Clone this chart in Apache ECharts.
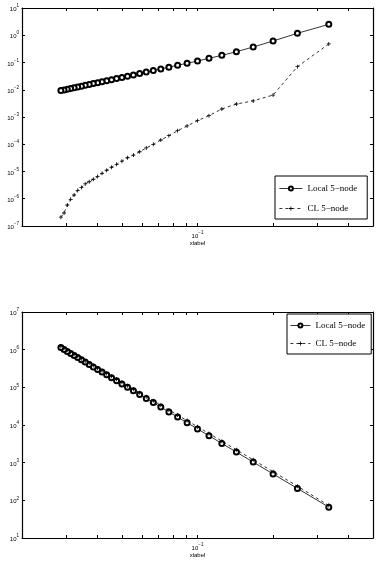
<!DOCTYPE html>
<html>
<head>
<meta charset="utf-8">
<script src="https://cdn.jsdelivr.net/npm/echarts@6/dist/echarts.min.js"></script>
<style>
html,body{margin:0;padding:0;background:#fff}
#main{width:376px;height:564px}
</style>
</head>
<body>
<div id="main"></div>
<script>
// mesh sizes, h = 1/n
var meshN = [3,4,5,6,7,8,9,10,11,12,13,14,15,16,17,18,19,20,21,22,23,24,25,26,27,28,29,30,31,32,33,34,35]

// top plot
var topLocal = [2.51,1.18,0.615,0.371,0.249,0.183,0.143,0.113,0.0938,0.0788,0.0671,0.0579,0.0505,0.0444,0.0393,0.0350,0.0314,0.0284,0.0258,0.0234,0.0215,0.0197,0.0182,0.0168,0.0156,0.0145,0.0135,0.0126,0.0118,0.0111,0.0104,0.0098,0.0093]
var topCL = [0.48,0.070,6.4e-3,3.9e-3,3.0e-3,1.97e-3,1.12e-3,7.3e-4,4.7e-4,3.14e-4,2.06e-4,1.43e-4,9.9e-5,7.3e-5,5.3e-5,4.0e-5,3.2e-5,2.4e-5,1.84e-5,1.43e-5,1.11e-5,8.6e-6,6.5e-6,5.2e-6,4.2e-6,3.5e-6,2.6e-6,2.0e-6,1.37e-6,9.5e-7,5.9e-7,3.0e-7,2.1e-7]

// bottom plot
var botLocal = [66,207,502,1035,1910,3245,5180,7870,11480,16220,22280,29920,39360,50820,64710,81100,100700,123300,149600,179900,214800,254100,299200,349100,406100,468800,539500,616600,703100,796200,899500,1014000,1138000]
var botCL = [73,238,577,1190,2200,3730,5960,8970,13090,18330,25180,33510,44080,56410,71830,89210,110800,135600,163100,196100,234100,274400,323100,377000,438600,501600,577300,659800,752300,851900,962500,1085000,1218000]

// ticks
var xTicks = [0.02,0.03,0.04,0.05,0.06,0.07,0.08,0.09,0.1,0.2,0.3,0.4,0.5]
var xLabels = [0.1]
var yTicksTop = [1e-7,1e-6,1e-5,1e-4,1e-3,1e-2,1e-1,1,10]
var yTicksBot = [10,100,1e3,1e4,1e5,1e6,1e7]

var names = ['Local 5\u2212node','CL 5\u2212node']
var plusPath = 'path://M4,0H6V4H10V6H6V10H4V6H0V4H4Z'

function pairs(ys){
	var out = []
	for (var i=0;i<meshN.length;i++) {
		out.push([1/meshN[i], ys[i]])
	}
	return out
}

function powLabel(v){
	var e = Math.round(Math.log10(v))
	return '{b|10}{s|' + (e<0 ? '\u2212'+(-e) : e) + '}'
}
var rich = {
	b: {fontSize: 6, fontFamily: 'Liberation Sans', color: '#000', verticalAlign: 'bottom', lineHeight: 9},
	s: {fontSize: 4.5, fontFamily: 'Liberation Sans', color: '#000', verticalAlign: 'top', lineHeight: 9, padding: [0,0,4,0]}
}
var lineBox = {show: true, lineStyle: {color: '#000', width: 1.2}}

function xAxes(gi){
	return [{
		type: 'log', gridIndex: gi, min: 0.02, max: 0.5, position: 'bottom',
		axisLine: lineBox,
		axisTick: {inside: true, length: 3, customValues: xTicks, lineStyle: {color: '#000'}},
		axisLabel: {customValues: xLabels, formatter: powLabel, rich: rich, margin: 4},
		splitLine: {show: false},
		name: 'xlabel', nameLocation: 'middle', nameGap: 14,
		nameTextStyle: {fontSize: 6, fontFamily: 'Liberation Sans', color: '#000'}
	},{
		type: 'log', gridIndex: gi, min: 0.02, max: 0.5, position: 'top',
		axisLine: lineBox,
		axisTick: {inside: true, length: 3, customValues: xTicks, lineStyle: {color: '#000'}},
		axisLabel: {show: false},
		splitLine: {show: false}
	}]
}
function yAxes(gi, lo, hi, ticks){
	return [{
		type: 'log', gridIndex: gi, min: lo, max: hi, position: 'left',
		axisLine: lineBox,
		axisTick: {inside: true, length: 3, customValues: ticks, lineStyle: {color: '#000'}},
		axisLabel: {customValues: ticks, formatter: powLabel, rich: rich, margin: 3},
		splitLine: {show: false},
		name: 'ylabel', nameLocation: 'middle', nameGap: 16, nameRotate: 90,
		nameTextStyle: {fontSize: 6, fontFamily: 'Liberation Sans', color: '#000'}
	},{
		type: 'log', gridIndex: gi, min: lo, max: hi, position: 'right',
		axisLine: lineBox,
		axisTick: {inside: true, length: 3, customValues: ticks, lineStyle: {color: '#000'}},
		axisLabel: {show: false},
		splitLine: {show: false}
	}]
}

function localSeries(xi, yi, data){
	return {
		name: names[0], type: 'line', xAxisIndex: xi, yAxisIndex: yi,
		data: pairs(data), symbol: 'emptyCircle', symbolSize: 5,
		lineStyle: {color: '#000', width: 0.8},
		itemStyle: {color: '#000', borderColor: '#000', borderWidth: 0.6},
		animation: false
	}
}
function clSeries(xi, yi, data){
	return {
		name: names[1], type: 'line', xAxisIndex: xi, yAxisIndex: yi,
		data: pairs(data), symbol: plusPath, symbolSize: 4,
		lineStyle: {color: '#000', width: 0.8, type: [3,3]},
		itemStyle: {color: '#000'},
		animation: false
	}
}

var legText = {fontSize: 9, fontFamily: 'Liberation Serif', color: '#000'}

var option = {
	backgroundColor: '#fff',
	animation: false,
	grid: [
		{left: 22, right: 3, top: 8, height: 218, outerBoundsMode: 'none'},
		{left: 22, right: 3, top: 312, height: 226, outerBoundsMode: 'none'}
	],
	xAxis: xAxes(0).concat(xAxes(1)),
	yAxis: yAxes(0, 1e-7, 10, yTicksTop).concat(yAxes(1, 10, 1e7, yTicksBot)),
	legend: [{
		data: names, orient: 'vertical', left: 275, top: 176,
		itemWidth: 23, itemHeight: 5, itemGap: 11,
		padding: [8,10,6,4],
		borderColor: '#000', borderWidth: 1, backgroundColor: '#fff',
		lineStyle: {width: 0.8}, itemStyle: {borderWidth: 0.6},
		textStyle: legText
	},{
		data: names, orient: 'vertical', left: 287, top: 314,
		itemWidth: 20, itemHeight: 5, itemGap: 9,
		padding: [7,6,6,3],
		borderColor: '#000', borderWidth: 1, backgroundColor: '#fff',
		lineStyle: {width: 0.8}, itemStyle: {borderWidth: 0.6},
		textStyle: legText
	}],
	series: [
		localSeries(0, 0, topLocal),
		clSeries(0, 0, topCL),
		localSeries(2, 2, botLocal),
		clSeries(2, 2, botCL)
	]
}

var chart = echarts.init(document.getElementById('main'))
chart.setOption(option)
</script>
</body>
</html>
